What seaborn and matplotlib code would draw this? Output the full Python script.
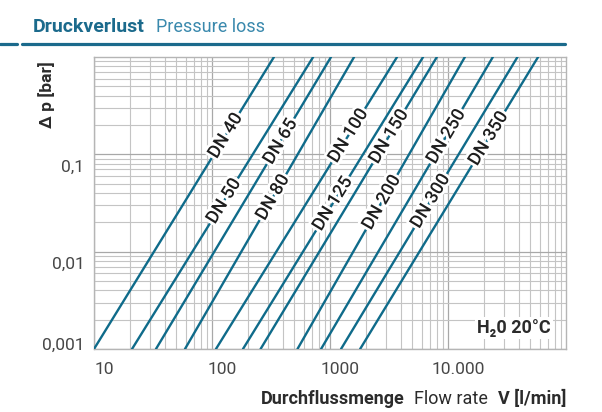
import numpy as np
import pandas as pd
import matplotlib
matplotlib.use("Agg")
import matplotlib.pyplot as plt
import matplotlib.patheffects as pe
from matplotlib.lines import Line2D
from matplotlib.ticker import LogLocator, NullFormatter
from matplotlib.transforms import ScaledTranslation
import seaborn as sns

# Pressure-loss characteristics: flow rate (l/min) at 0.001 bar and at 1 bar
dn_sizes = ["DN 40", "DN 50", "DN 65", "DN 80", "DN 100", "DN 125",
            "DN 150", "DN 200", "DN 250", "DN 300", "DN 350"]
flow_at_low_dp = [10, 21, 33.5, 59, 108, 183, 258, 530, 840, 1240, 1800]
flow_at_high_dp = [335, 720, 1020, 1600, 3700, 6150, 8050, 13900, 24000, 38800, 58000]
dp_range = [0.001, 1.0]

# pressure drop (bar) at which each curve carries its name
label_dp = [0.155, 0.033, 0.135, 0.036, 0.155, 0.031, 0.152, 0.032, 0.152, 0.033, 0.145]

x_ticks = [10, 100, 1000, 10000]
x_tick_labels = ["10", "100", "1000", "10.000"]
y_ticks = [0.001, 0.01, 0.1]
y_tick_labels = ["0,001", "0,01", "0,1"]

LINE = "#0f6b8a"
TEAL_DARK = "#1b6a8c"
TEAL_LIGHT = "#3a89ad"
TEXT = "#2b2b2b"

sns.set_theme(style="white")
plt.rcParams["font.family"] = ["Roboto", "DejaVu Sans"]

W, H = 602, 412
fig = plt.figure(figsize=(W / 100, H / 100), dpi=100)
ax = fig.add_axes([94 / W, 1 - 349 / H, (566 - 94) / W, (349 - 57) / H])

df = pd.DataFrame({
    "DN": np.repeat(dn_sizes, 2),
    "flow": np.ravel(np.column_stack([flow_at_low_dp, flow_at_high_dp])),
    "dp": np.tile(dp_range, len(dn_sizes)),
})
sns.lineplot(data=df, x="flow", y="dp", hue="DN", hue_order=dn_sizes,
             palette=[LINE] * len(dn_sizes), legend=False, sort=False,
             linewidth=1.7, ax=ax, zorder=3)

ax.set_xscale("log")
ax.set_yscale("log")
ax.set_xlim(10, 1e5)
ax.set_ylim(1e-3, 1)

sub = np.arange(2, 10)
ax.xaxis.set_minor_locator(LogLocator(base=10, subs=sub))
ax.yaxis.set_minor_locator(LogLocator(base=10, subs=sub))
ax.xaxis.set_minor_formatter(NullFormatter())
ax.yaxis.set_minor_formatter(NullFormatter())
ax.grid(which="major", color="#a8a8a8", linewidth=0.9)
ax.grid(which="minor", color="#c4c4c4", linewidth=0.8)
ax.set_axisbelow(True)
for s in ax.spines.values():
    s.set_color("#b5b5b5")
    s.set_linewidth(1.0)

ax.set_xticks(x_ticks, x_tick_labels)
ax.set_yticks(y_ticks, y_tick_labels)
ax.tick_params(axis="both", which="both", length=0, labelsize=12.5,
               labelcolor="#474747")
ax.tick_params(axis="x", pad=9)
ax.tick_params(axis="y", pad=7)
for lab in ax.get_xticklabels():
    lab.set_transform(lab.get_transform() + ScaledTranslation(10 / 100, 0, fig.dpi_scale_trans))
for lab, dy in zip(ax.get_yticklabels(), [5, -11, -11]):
    lab.set_transform(lab.get_transform() + ScaledTranslation(0, dy / 100, fig.dpi_scale_trans))
ax.set_xlabel("")
ax.set_ylabel("")

# curve names, written along each line with a white halo
halo = [pe.withStroke(linewidth=4, foreground="white")]
for name, q0, q1, dp in zip(dn_sizes, flow_at_low_dp, flow_at_high_dp, label_dp):
    t = (np.log10(dp) - np.log10(dp_range[0])) / (np.log10(dp_range[1]) - np.log10(dp_range[0]))
    q = 10 ** (np.log10(q0) + t * (np.log10(q1) - np.log10(q0)))
    p0 = ax.transData.transform((q0, dp_range[0]))
    p1 = ax.transData.transform((q1, dp_range[1]))
    ang = np.degrees(np.arctan2(p1[1] - p0[1], p1[0] - p0[0]))
    ax.text(q, dp, name, rotation=ang, rotation_mode="anchor", ha="center", va="center",
            fontsize=13, fontweight="medium", color="#1e1e1e", path_effects=halo, zorder=4)

ax.text(0.967, 0.072, "H\u20820 20°C", transform=ax.transAxes, ha="right", va="center",
        fontsize=13, fontweight="bold", color=TEXT, zorder=5,
        bbox=dict(facecolor="white", edgecolor="none", pad=1.5))

fig.text(47 / W, 1 - 95 / H, "\u0394 p [bar]", rotation=90, ha="center", va="center",
         fontsize=12.5, fontweight="bold", color=TEXT)

renderer = fig.canvas.get_renderer()

# header: bold German term followed by the English one, then a rule
t1 = fig.text(33 / W, 1 - 32 / H, "Druckverlust", ha="left", va="baseline",
              fontsize=14, fontweight="bold", color=TEAL_DARK)
bb = t1.get_window_extent(renderer)
fig.text((bb.x1 + 11) / W, 1 - 32 / H, "Pressure loss", ha="left", va="baseline",
         fontsize=13, color=TEAL_LIGHT)
fig.add_artist(Line2D([0, 17 / W], [1 - 44 / H] * 2, color=TEAL_DARK, lw=2.3))
fig.add_artist(Line2D([22 / W, 565 / W], [1 - 44 / H] * 2, color=TEAL_DARK, lw=2.3))

# axis title built right to left from three differently weighted parts
yb = 1 - 404 / H
x_right = 566
parts = [("V [l/min]", "bold", 0), ("Flow rate", "normal", 10), ("Durchflussmenge", "bold", 9)]
for txt, wt, gap in parts:
    x_right -= gap
    t = fig.text(x_right / W, yb, txt, ha="right", va="baseline", fontsize=13,
                 fontweight=wt, color=TEXT)
    x_right = t.get_window_extent(renderer).x0

fig.savefig("out.png", dpi=100)
